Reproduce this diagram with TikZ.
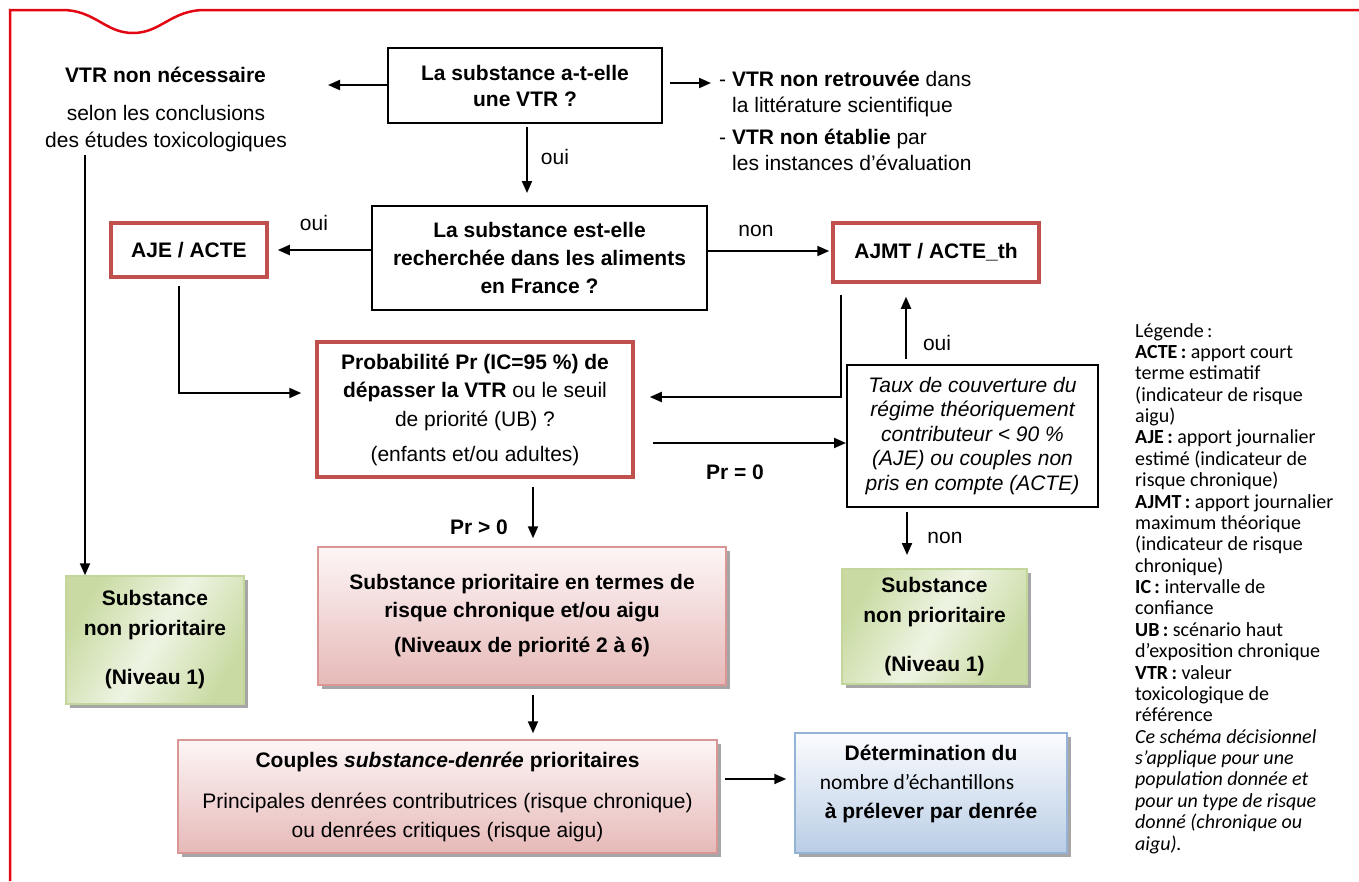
\documentclass[tikz,border=0pt]{standalone}
\usepackage{fontspec}
\setmainfont{Liberation Sans}
\newfontfamily\legfont{Carlito}
\usetikzlibrary{arrows.meta,calc,shadows}
\definecolor{framered}{HTML}{E30613}
\definecolor{boxred}{HTML}{C0504D}
\definecolor{grnedge}{HTML}{C3D69B}
\definecolor{grndark}{HTML}{C9DBA3}
\definecolor{grnlight}{HTML}{EEF4E3}
\definecolor{pnkedge}{HTML}{D99694}
\definecolor{pnktop}{HTML}{FDF6F6}
\definecolor{pnkbot}{HTML}{E6B9B8}
\definecolor{bluedge}{HTML}{95B3D7}
\definecolor{bluetop}{HTML}{FBFCFE}
\definecolor{bluebot}{HTML}{B9CDE5}
\tikzset{
  txt/.style={font=\fontsize{21}{26}\selectfont, inner sep=0pt},
  conn/.style={line width=2pt, -{Triangle[length=12pt,width=10pt]}},
  blackbox/.style={draw, line width=2pt, align=center, inner sep=0pt, font=\bfseries\fontsize{21}{27}\selectfont},
  redbox/.style={draw=boxred, line width=3.5pt, align=center, inner sep=0pt, fill=white},
  shadowed/.style={drop shadow={shadow xshift=3.5pt, shadow yshift=-3.5pt, fill=black, opacity=0.35}},
  greenbox/.style={shadowed, draw=grnedge, line width=1.5pt, align=center, inner sep=0pt,
     left color=grndark, right color=grndark, middle color=grnlight, shading angle=60,
     font=\bfseries\fontsize{21}{30}\selectfont},
  pinkbox/.style={shadowed, draw=pnkedge, line width=1.5pt, align=center, inner sep=0pt,
     top color=pnktop, bottom color=pnkbot},
  bluebox/.style={shadowed, draw=bluedge, line width=1.5pt, inner sep=0pt,
     top color=bluetop, bottom color=bluebot},
  lbl/.style={font=\fontsize{21}{26}\selectfont, inner sep=0pt},
}
\begin{document}
\begin{tikzpicture}[x=1pt,y=-1pt]
\useasboundingbox (0,0) rectangle (1359,881);
% page frame
\draw[framered, line width=2.5pt] (10,881) -- (10,10) -- (62,10)
  .. controls (95,10) and (105,33) .. (133,33)
  .. controls (161,33) and (171,10) .. (205,10) -- (1359,10);

\coordinate (axis) at (527,0);
\coordinate (axisb) at (533,0);
\coordinate (xr) at (906,0);

% nodes
\node[blackbox, minimum width=274pt, minimum height=75pt, font=\bfseries\fontsize{21}{26}\selectfont] (box1) at (525,85.5)
  {La substance a-t-elle\\une VTR ?};
\node[txt, font=\bfseries\fontsize{21}{26}\selectfont, anchor=base west] (vtrnn) at (65,82) {VTR non nécessaire};
\node[txt, align=center, font=\fontsize{21}{27}\selectfont] (vtrnntxt) at (166,128.5) {selon les conclusions\\des études toxicologiques};
\node[txt, align=left, anchor=west] (vtrr) at (719,94) {- \textbf{VTR non retrouvée} dans\\\hspace*{13pt}la littérature scientifique};
\node[txt, align=left, anchor=west] (vtre) at (719,150) {- \textbf{VTR non établie} par\\\hspace*{13pt}les instances d’évaluation};

\node[blackbox, minimum width=335pt, minimum height=104pt, font=\bfseries\fontsize{21}{28}\selectfont] (box2) at (539.5,258)
  {La substance est-elle\\recherchée dans les aliments\\en France ?};
\node[redbox, minimum width=156pt, minimum height=54pt, font=\bfseries\fontsize{21}{26}\selectfont] (aje) at (189,250) {AJE / ACTE};
\node[redbox, minimum width=206pt, minimum height=59pt, font=\bfseries\fontsize{21}{26}\selectfont] (ajmt) at (936,252.5) {AJMT / ACTE\_th};

\node[redbox, minimum width=316pt, minimum height=135pt, font=\fontsize{21}{28.5}\selectfont] (prob) at (475,409.5)
  {\textbf{Probabilité Pr (IC=95 \%) de}\\\textbf{dépasser la VTR} ou le seuil\\de priorité (UB) ?\\[6.5pt](enfants et/ou adultes)};
\node[draw, line width=2pt, minimum width=251pt, minimum height=142pt, align=center, inner sep=0pt,
  font=\itshape\fontsize{21}{24.5}\selectfont] (taux) at (972.5,436)
  {Taux de couverture du\\régime théoriquement\\contributeur < 90 \%\\(AJE) ou couples non\\pris en compte (ACTE)};

\node[greenbox, minimum width=178pt, minimum height=128pt] (gl) at (155,640)
  {Substance\\non prioritaire\\[19pt](Niveau 1)};
\node[pinkbox, minimum width=408pt, minimum height=138pt, font=\bfseries\fontsize{21}{28}\selectfont] (pk) at (522,616)
  {Substance prioritaire en termes de\\risque chronique et/ou aigu\\[7pt](Niveaux de priorité 2 à 6)};
\node[greenbox, minimum width=185pt, minimum height=115pt] (gr) at (934.5,626.5)
  {Substance\\non prioritaire\\[19pt](Niveau 1)};

\node[pinkbox, minimum width=539pt, minimum height=113pt, font=\fontsize{21}{29}\selectfont] (cp) at (447.5,796.5)
  {\textbf{Couples \textit{substance-denrée} prioritaires}\\[12pt]Principales denrées contributrices (risque chronique)\\ou denrées critiques (risque aigu)};
\node[bluebox, minimum width=272pt, minimum height=120pt] (bl) at (931,793) {};
\node[align=center, inner sep=0pt, font=\fontsize{21}{29}\selectfont] (bltxt) at (bl.center) [yshift=9pt]
  {\textbf{Détermination du}\\\mbox{{\legfont\fontsize{21.5}{29}\selectfont nombre d’échantillons}\hspace*{28pt}}\\\textbf{à prélever par denrée}};

% legend
\node[anchor=north west, align=left, inner sep=0pt, font=\legfont\fontsize{20}{21.375}\selectfont] (legend) at (1135,323)
  {Légende\,:\\
   \textbf{ACTE\,:} apport court\\
   terme estimatif\\
   (indicateur de risque\\
   aigu)\\
   \textbf{AJE\,:} apport journalier\\
   estimé (indicateur de\\
   risque chronique)\\
   \textbf{AJMT\,:} apport journalier\\
   maximum théorique\\
   (indicateur de risque\\
   chronique)\\
   \textbf{IC\,:} intervalle de\\
   confiance\\
   \textbf{UB\,:} scénario haut\\
   d’exposition chronique\\
   \textbf{VTR\,:} valeur\\
   toxicologique de\\
   référence\\
   \textit{Ce schéma décisionnel}\\
   \textit{s’applique pour une}\\
   \textit{population donnée et}\\
   \textit{pour un type de risque}\\
   \textit{donné (chronique ou}\\
   \textit{aigu).}};

% connector end points
\coordinate (c1) at (328,85);
\coordinate (c1s) at (388,85);
\coordinate (c2s) at (670,83);
\coordinate (c2) at (711,83);
\coordinate (v1) at (85,155);
\coordinate (tauxend) at (907,555);
\coordinate (pe) at (653,443);
\coordinate (ajein) at (179,393);
\coordinate (ajmtin) at (841,397);
\coordinate (cbs) at (725,779);

% connectors
\draw[conn] (c1s) -- (c1);
\draw[conn] (c2s) -- (c2);
\draw[conn, shorten <=3pt, shorten >=12pt] (box1.south -| axis) -- (box2.north -| axis);
\draw[conn, shorten >=9pt] (box2.west |- 0,250) -- (aje.east |- 0,250);
\draw[conn, shorten >=2pt] (box2.east |- 0,251) -- (ajmt.west |- 0,251);
\draw[conn, shorten >=14pt] ($(aje.south -| ajein)+(0,7)$) -- (ajein) -- (ajein -| prob.west);
\draw[conn, shorten >=15pt] ($(ajmt.south -| ajmtin)+(0,11)$) -- (ajmtin) -- (ajmtin -| prob.east);
\draw[conn] (pe) -- (pe -| taux.west);
\draw[conn, shorten <=5pt, shorten >=13pt] (taux.north -| xr) -- (ajmt.south -| xr);
\draw[conn, shorten <=4pt] (taux.south -| tauxend) -- (tauxend);
\draw[conn, shorten <=8pt, shorten >=8pt] (prob.south -| axisb) -- (pk.north -| axisb);
\draw[conn, shorten <=9pt, shorten >=6pt] (pk.south -| axisb) -- (cp.north -| axisb);
\draw[conn, shorten >=8pt] (cbs) -- (cbs -| bl.west);
\draw[conn] (v1) -- (v1 |- gl.north);

% connector labels
\node[lbl] (l1) at (555,157) {oui};
\node[lbl] (l2) at (314,223) {oui};
\node[lbl] (l3) at (756,231) {non};
\node[lbl] (l4) at (937,343) {oui};
\node[lbl, font=\bfseries\fontsize{21}{26}\selectfont] (l5) at (735,472) {Pr = 0};
\node[lbl, font=\bfseries\fontsize{21}{26}\selectfont] (l6) at (479,527) {Pr > 0};
\node[lbl] (l7) at (945,538) {non};
\end{tikzpicture}
\end{document}
